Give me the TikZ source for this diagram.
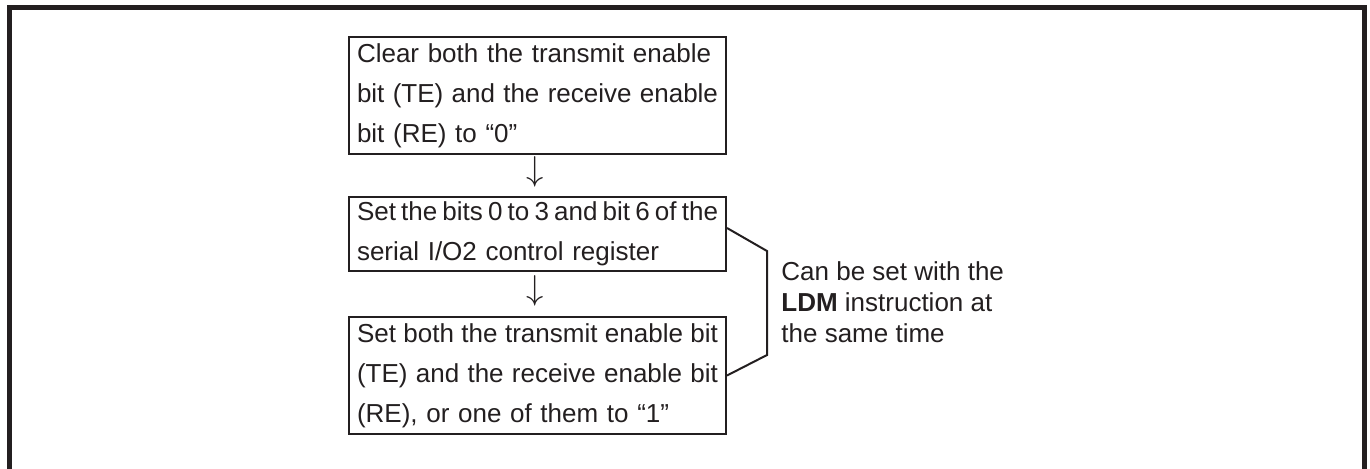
\documentclass[tikz,border=0pt]{standalone}
\usepackage{fontspec}
\setmainfont{Liberation Sans}
\usetikzlibrary{positioning}
\definecolor{inkgray}{RGB}{35,31,32}
\newcommand{\fitline}[1]{\leavevmode\sbox0{#1}\ifdim\wd0>\hsize{\spaceskip=.278em plus 1fil minus 1fil\hbox to\hsize{#1}}\else\usebox0\fi}
\tikzset{
  stepbox/.style={draw=inkgray,line width=1pt,text width=180.5pt,inner xsep=4pt,inner ysep=0pt,align=left,anchor=west,font=\fontsize{13}{20}\selectfont,text=inkgray},
  flowarrow/.style={font=\fontsize{16}{16}\selectfont,inner sep=0pt,text=inkgray},
  brace/.style={draw=inkgray,line width=1pt},
  frame/.style={draw=inkgray,line width=2.5pt},
  note/.style={align=left,font=\fontsize{13}{15.5}\selectfont,inner sep=0pt,text=inkgray}
}

\begin{document}
\begin{tikzpicture}[x=0.5pt,y=-0.5pt]
\useasboundingbox (0,0) rectangle (1370,468);
\draw[frame] (9.5,470) -- (9.5,7.5) -- (1364.5,7.5) -- (1364.5,470);
\node[stepbox,minimum height=58.5pt] (clear) at (348,95.5) {\fitline{Clear both the transmit enable}\\\fitline{bit (TE) and the receive enable}\\bit (RE) to “0”};
\node[flowarrow] (arr1) at (535,171.5) {$\downarrow$};
\node[stepbox,minimum height=37pt] (setbits) at (348,234) {\fitline{Set the bits 0 to 3 and bit 6 of the}\\serial I/O2 control register};
\node[flowarrow] (arr2) at (535,291) {$\downarrow$};
\node[stepbox,minimum height=58.5pt] (enable) at (348,375.5) {\fitline{Set both the transmit enable bit}\\\fitline{(TE) and the receive enable bit}\\(RE), or one of them to “1”};
\coordinate (bt) at (767,251);
\coordinate (bb) at (767,355);
\draw[brace] ([yshift=3pt]setbits.east) -- (bt) -- (bb) -- (enable.east);
\node[note,anchor=west] (ldm) at (781,302.5) {Can be set with the\\\textbf{LDM} instruction at\\the same time};
\end{tikzpicture}
\end{document}
